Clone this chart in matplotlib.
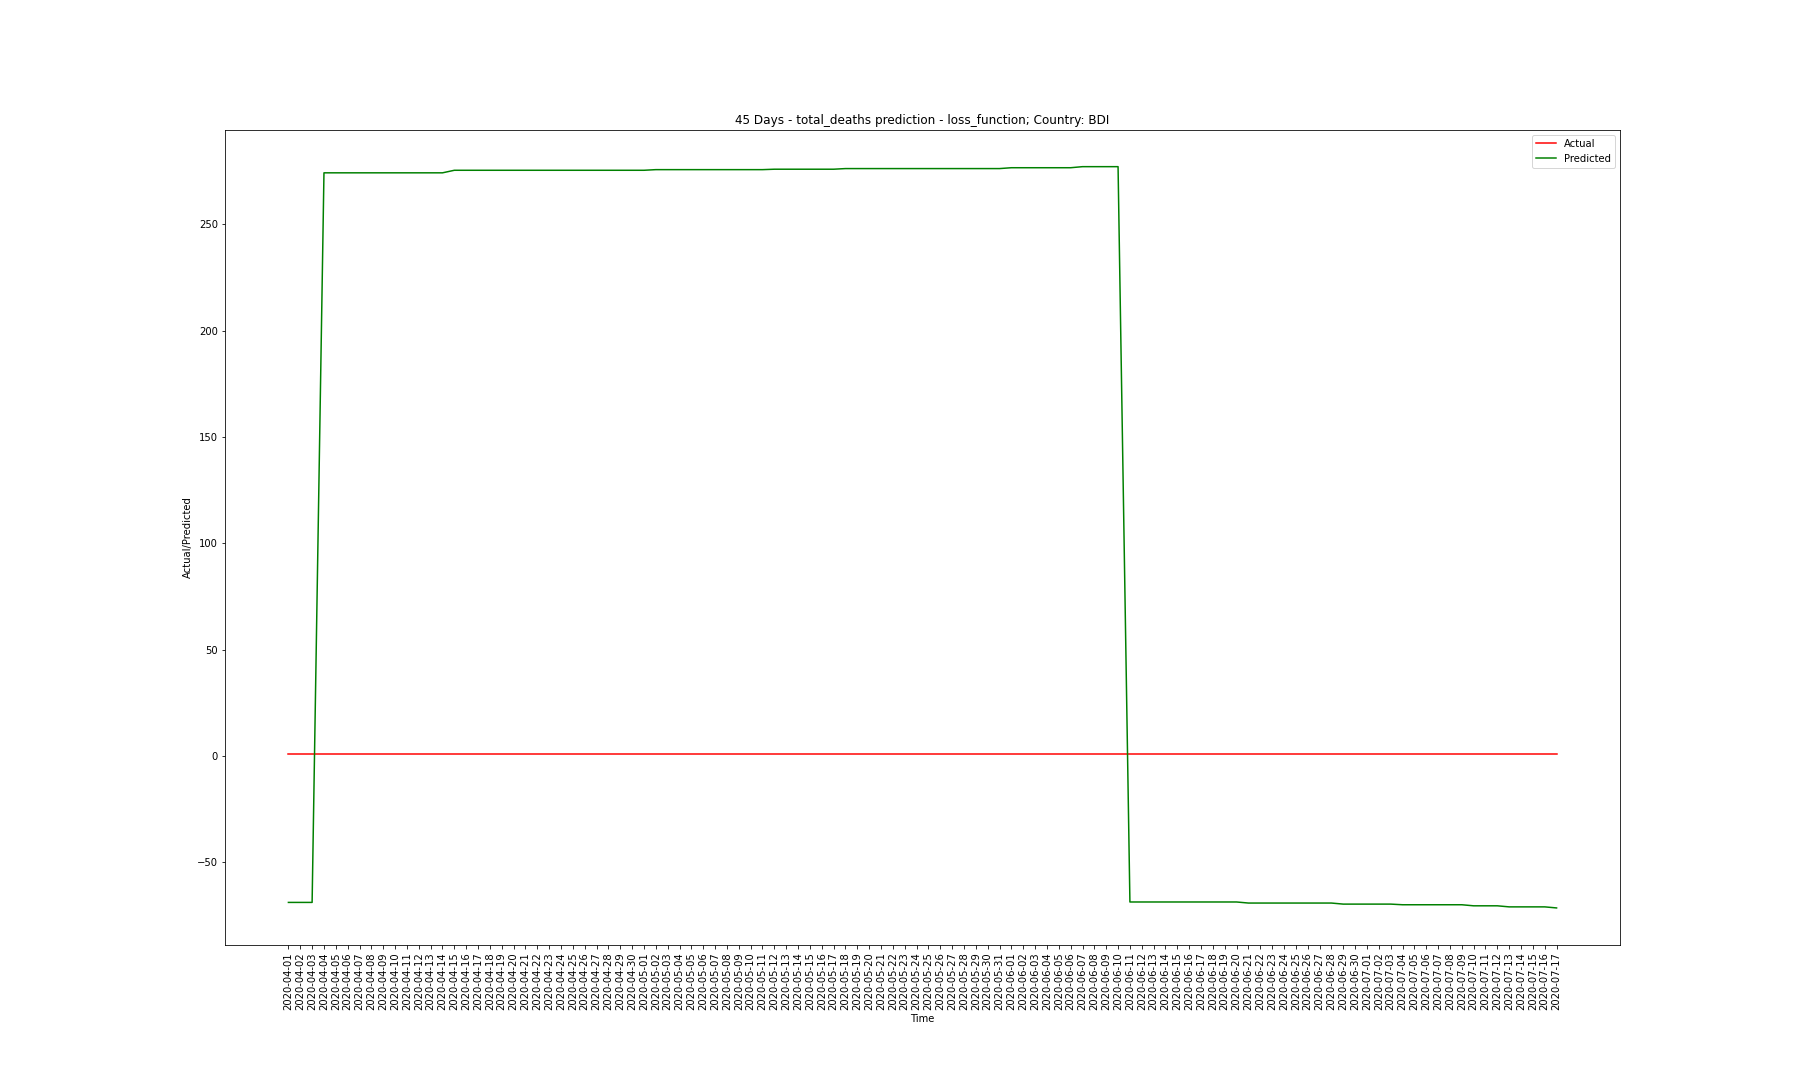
import matplotlib
matplotlib.use("Agg")
import matplotlib.pyplot as plt
import pandas as pd

dates = [d.strftime("%Y-%m-%d") for d in pd.date_range("2020-04-01", "2020-07-17")]

actual = [1.0] * len(dates)

# predicted values, grouped as (value, count of days)
predicted_runs = [
    (-69.0, 3),    # 04-01 .. 04-03
    (274.3, 11),   # 04-04 .. 04-14
    (275.5, 17),   # 04-15 .. 05-01
    (275.8, 10),   # 05-02 .. 05-11
    (276.0, 6),    # 05-12 .. 05-17
    (276.3, 14),   # 05-18 .. 05-31
    (276.7, 6),    # 06-01 .. 06-06
    (277.2, 4),    # 06-07 .. 06-10
    (-68.8, 10),   # 06-11 .. 06-20
    (-69.3, 8),    # 06-21 .. 06-28
    (-69.8, 5),    # 06-29 .. 07-03
    (-70.1, 6),    # 07-04 .. 07-09
    (-70.6, 3),    # 07-10 .. 07-12
    (-71.1, 4),    # 07-13 .. 07-16
    (-71.6, 1),    # 07-17
]
predicted = []
for value, count in predicted_runs:
    predicted += [value] * count


def plot(dates, actual, predicted):
    plt.figure(figsize=(25, 15), dpi=72)
    plt.subplots_adjust(left=0.125, right=0.9, top=0.88, bottom=0.125)
    plt.title("45 Days - total_deaths prediction - loss_function; Country: BDI")
    plt.xlabel("Time")
    plt.ylabel("Actual/Predicted")

    plt.plot(dates, actual, color="red", label="Actual")
    plt.plot(dates, predicted, color="green", label="Predicted")
    plt.xticks(rotation=90)

    plt.legend(loc="upper right")
    plt.savefig("out.png", dpi=72)


plot(dates, actual, predicted)
